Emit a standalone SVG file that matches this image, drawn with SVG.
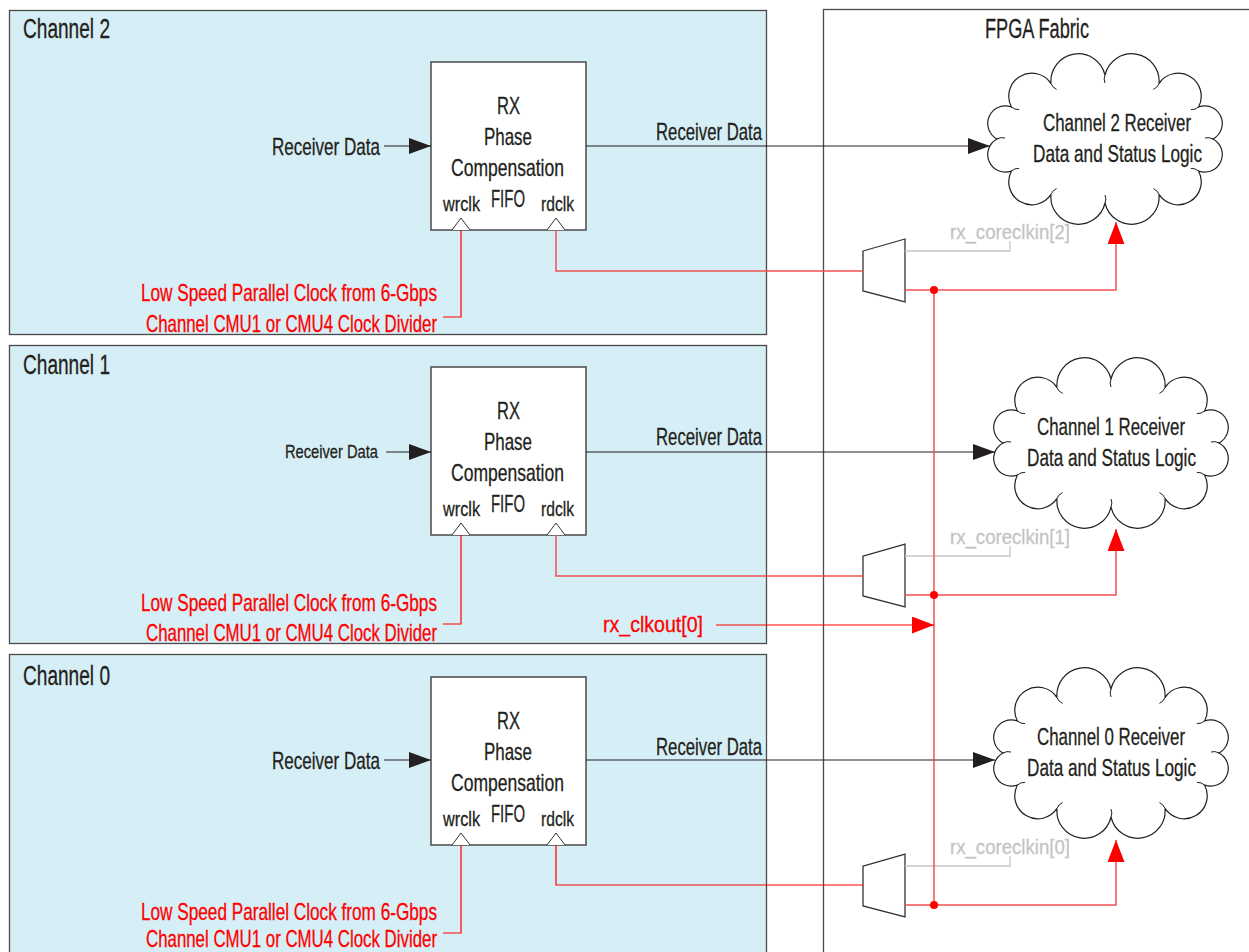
<svg xmlns="http://www.w3.org/2000/svg" width="1249" height="952" viewBox="0 0 1249 952">
<style>
text{font-family:"Liberation Sans Narrow","Liberation Sans",Arial,sans-serif;fill:#231f20;stroke:#231f20;stroke-width:0.3}
.r{fill:#ff0000;stroke:#ff0000}
.g{fill:#c4c4c4;stroke:#c4c4c4}
.chan{fill:#d6eef5;stroke:#4a4a4a;stroke-width:1.3}
.fab{fill:#ffffff;stroke:#4a4a4a;stroke-width:1.3}
.box{fill:#ffffff;stroke:#4a4a4a;stroke-width:1.5}
.clk{fill:#ffffff;stroke:#333;stroke-width:1}
.mux{fill:#ffffff;stroke:#333;stroke-width:1.3}
.cloud{fill:#ffffff;stroke:#231f20;stroke-width:1.2}
.tick{fill:none;stroke:#231f20;stroke-width:1}
.dl{fill:none;stroke:#231f20;stroke-width:1.2}
.rl{fill:none;stroke:#ff0000;stroke-width:1.2}
.rl2{fill:none;stroke:#f25050;stroke-width:1.5}
.gl{fill:none;stroke:#c8c8c8;stroke-width:1.3}
</style>
<defs>
<marker id="ab" markerUnits="userSpaceOnUse" viewBox="0 0 22 16" markerWidth="22" markerHeight="16" refX="22" refY="8" orient="auto"><path d="M0,0 L22,8 L0,16 Z" fill="#231f20"/></marker>
<marker id="ar" markerUnits="userSpaceOnUse" viewBox="0 0 22 17" markerWidth="22" markerHeight="17" refX="22" refY="8.5" orient="auto"><path d="M0,0 L22,8.5 L0,17 Z" fill="#ff0000"/></marker>
<path id="cl" d="M108,0 A17.6,17.6 0 0 1 93.53,32 A23,23 0 0 1 54,55.43 A27.4,27.4 0 0 1 0,64 A27.4,27.4 0 0 1 -54,55.43 A23,23 0 0 1 -93.53,32 A17.6,17.6 0 0 1 -108,0 A17.6,17.6 0 0 1 -93.53,-32 A23,23 0 0 1 -54,-55.43 A27.4,27.4 0 0 1 0,-64 A27.4,27.4 0 0 1 54,-55.43 A23,23 0 0 1 93.53,-32 A17.6,17.6 0 0 1 108,0 Z"/>
<path id="ct" d="M108,0 a10,10 0 0 0 -8,-1 M93.53,32 a10,10 0 0 0 -7.6,-2.6 M54,55.43 a10,10 0 0 0 -5.6,-5.8 M0,64 a10,10 0 0 0 0,-8 M-54,55.43 a10,10 0 0 1 5.6,-5.8 M-93.53,32 a10,10 0 0 1 7.6,-2.6 M-108,0 a10,10 0 0 1 8,-1 M-93.53,-32 a10,10 0 0 0 7.6,2.6 M-54,-55.43 a10,10 0 0 0 5.6,5.8 M0,-64 a10,10 0 0 0 0,8 M54,-55.43 a10,10 0 0 1 -5.6,5.8 M93.53,-32 a10,10 0 0 1 -7.6,2.6"/>
</defs>

<g id="fpga-fabric">
<rect class="fab" x="823.5" y="9.5" width="500" height="1000"/>
<text x="985" y="38" font-size="27" textLength="104" lengthAdjust="spacingAndGlyphs">FPGA Fabric</text>
</g>

<g id="channel2">
<rect class="chan" x="9.5" y="10.5" width="757" height="324"/>
<text x="23" y="38" font-size="27" textLength="87" lengthAdjust="spacingAndGlyphs">Channel 2</text>
</g>
<g id="channel1">
<rect class="chan" x="9.5" y="345.5" width="757" height="298"/>
<text x="23" y="374" font-size="27" textLength="87" lengthAdjust="spacingAndGlyphs">Channel 1</text>
</g>
<g id="channel0">
<rect class="chan" x="9.5" y="654.5" width="757" height="320"/>
<text x="23" y="685" font-size="27" textLength="87" lengthAdjust="spacingAndGlyphs">Channel 0</text>
</g>

<g id="fifo2">
<rect class="box" x="431" y="62" width="155" height="168"/>
<text x="497" y="114" font-size="24" textLength="23" lengthAdjust="spacingAndGlyphs">RX</text>
<text x="484" y="145" font-size="24" textLength="48" lengthAdjust="spacingAndGlyphs">Phase</text>
<text x="451" y="176" font-size="24" textLength="113" lengthAdjust="spacingAndGlyphs">Compensation</text>
<text x="491" y="207" font-size="24" textLength="34" lengthAdjust="spacingAndGlyphs">FIFO</text>
<text x="443" y="211" font-size="20" textLength="37" lengthAdjust="spacingAndGlyphs">wrclk</text>
<text x="541" y="211" font-size="20" textLength="33" lengthAdjust="spacingAndGlyphs">rdclk</text>
<path class="clk" d="M452,230 L461,218 L470,230"/>
<path class="clk" d="M547,230 L556,218 L565,230"/>
</g>
<g id="fifo1">
<rect class="box" x="431" y="367" width="155" height="168"/>
<text x="497" y="419" font-size="24" textLength="23" lengthAdjust="spacingAndGlyphs">RX</text>
<text x="484" y="450" font-size="24" textLength="48" lengthAdjust="spacingAndGlyphs">Phase</text>
<text x="451" y="481" font-size="24" textLength="113" lengthAdjust="spacingAndGlyphs">Compensation</text>
<text x="491" y="512" font-size="24" textLength="34" lengthAdjust="spacingAndGlyphs">FIFO</text>
<text x="443" y="516" font-size="20" textLength="37" lengthAdjust="spacingAndGlyphs">wrclk</text>
<text x="541" y="516" font-size="20" textLength="33" lengthAdjust="spacingAndGlyphs">rdclk</text>
<path class="clk" d="M452,535 L461,523 L470,535"/>
<path class="clk" d="M547,535 L556,523 L565,535"/>
</g>
<g id="fifo0">
<rect class="box" x="431" y="677" width="155" height="168"/>
<text x="497" y="729" font-size="24" textLength="23" lengthAdjust="spacingAndGlyphs">RX</text>
<text x="484" y="760" font-size="24" textLength="48" lengthAdjust="spacingAndGlyphs">Phase</text>
<text x="451" y="791" font-size="24" textLength="113" lengthAdjust="spacingAndGlyphs">Compensation</text>
<text x="491" y="822" font-size="24" textLength="34" lengthAdjust="spacingAndGlyphs">FIFO</text>
<text x="443" y="826" font-size="20" textLength="37" lengthAdjust="spacingAndGlyphs">wrclk</text>
<text x="541" y="826" font-size="20" textLength="33" lengthAdjust="spacingAndGlyphs">rdclk</text>
<path class="clk" d="M452,845 L461,833 L470,845"/>
<path class="clk" d="M547,845 L556,833 L565,845"/>
</g>

<g id="mux2"><path class="mux" d="M863,251 L905,239 L905,302 L863,291 Z"/></g>
<g id="mux1"><path class="mux" d="M863,556 L905,544 L905,607 L863,596 Z"/></g>
<g id="mux0"><path class="mux" d="M863,866 L905,854 L905,917 L863,906 Z"/></g>

<g id="cloud2">
<use href="#cl" class="cloud" x="1105" y="139"/>
<use href="#ct" class="tick" x="1105" y="139"/>
<text transform="translate(1043,131) scale(0.72,1)" font-size="24" textLength="205.6" lengthAdjust="spacingAndGlyphs">Channel 2 Receiver</text>
<text transform="translate(1033,162) scale(0.72,1)" font-size="24" textLength="234.7" lengthAdjust="spacingAndGlyphs">Data and Status Logic</text>
</g>
<g id="cloud1">
<use href="#cl" class="cloud" x="1111" y="443"/>
<use href="#ct" class="tick" x="1111" y="443"/>
<text transform="translate(1037,435) scale(0.72,1)" font-size="24" textLength="205.6" lengthAdjust="spacingAndGlyphs">Channel 1 Receiver</text>
<text transform="translate(1027,466) scale(0.72,1)" font-size="24" textLength="234.7" lengthAdjust="spacingAndGlyphs">Data and Status Logic</text>
</g>
<g id="cloud0">
<use href="#cl" class="cloud" x="1111" y="753"/>
<use href="#ct" class="tick" x="1111" y="753"/>
<text transform="translate(1037,745) scale(0.72,1)" font-size="24" textLength="205.6" lengthAdjust="spacingAndGlyphs">Channel 0 Receiver</text>
<text transform="translate(1027,776) scale(0.72,1)" font-size="24" textLength="234.7" lengthAdjust="spacingAndGlyphs">Data and Status Logic</text>
</g>

<g id="connectors">
<path class="dl" d="M384,146 H431" marker-end="url(#ab)"/>
<path class="dl" d="M386,452 H431" marker-end="url(#ab)"/>
<path class="dl" d="M384,760 H431" marker-end="url(#ab)"/>
<path class="dl" d="M586,146 H990" marker-end="url(#ab)"/>
<path class="dl" d="M586,452 H995" marker-end="url(#ab)"/>
<path class="dl" d="M586,760 H995" marker-end="url(#ab)"/>
<path class="rl" d="M461,230 V317 H443"/>
<path class="rl" d="M461,535 V624 H443"/>
<path class="rl" d="M461,845 V933 H443"/>
<path class="rl2" d="M556,230 V271 H863"/>
<path class="rl2" d="M556,535 V576 H863"/>
<path class="rl" d="M556,845 V885 H863"/>
<path class="rl2" d="M905,290 H1116 V222" marker-end="url(#ar)"/>
<path class="rl2" d="M905,595 H1116 V529" marker-end="url(#ar)"/>
<path class="rl2" d="M905,905 H1116 V840" marker-end="url(#ar)"/>
<path class="gl" d="M905,251 H1010 V241"/>
<path class="gl" d="M905,556 H1010 V546"/>
<path class="gl" d="M905,866 H1010 V856"/>
<path class="rl2" d="M934,290 V905"/>
<path class="rl" d="M716,625 H934" marker-end="url(#ar)"/>
<circle cx="934" cy="290" r="4" fill="#ff0000"/>
<circle cx="934" cy="595" r="4" fill="#ff0000"/>
<circle cx="934" cy="905" r="4" fill="#ff0000"/>
<text x="272" y="155" font-size="24" textLength="108" lengthAdjust="spacingAndGlyphs">Receiver Data</text>
<text x="285" y="458" font-size="19" textLength="93" lengthAdjust="spacingAndGlyphs">Receiver Data</text>
<text x="272" y="769" font-size="24" textLength="108" lengthAdjust="spacingAndGlyphs">Receiver Data</text>
<text x="656" y="140" font-size="24" textLength="106" lengthAdjust="spacingAndGlyphs">Receiver Data</text>
<text x="656" y="445" font-size="24" textLength="106" lengthAdjust="spacingAndGlyphs">Receiver Data</text>
<text x="656" y="755" font-size="24" textLength="106" lengthAdjust="spacingAndGlyphs">Receiver Data</text>
<text class="r" x="141" y="301" font-size="24" textLength="296" lengthAdjust="spacingAndGlyphs">Low Speed Parallel Clock from 6-Gbps</text>
<text class="r" x="146" y="332" font-size="24" textLength="291" lengthAdjust="spacingAndGlyphs">Channel CMU1 or CMU4 Clock Divider</text>
<text class="r" x="141" y="611" font-size="24" textLength="296" lengthAdjust="spacingAndGlyphs">Low Speed Parallel Clock from 6-Gbps</text>
<text class="r" x="146" y="641" font-size="24" textLength="291" lengthAdjust="spacingAndGlyphs">Channel CMU1 or CMU4 Clock Divider</text>
<text class="r" x="141" y="920" font-size="24" textLength="296" lengthAdjust="spacingAndGlyphs">Low Speed Parallel Clock from 6-Gbps</text>
<text class="r" x="146" y="947" font-size="24" textLength="291" lengthAdjust="spacingAndGlyphs">Channel CMU1 or CMU4 Clock Divider</text>
<text class="r" x="603" y="632" font-size="22" textLength="100" lengthAdjust="spacingAndGlyphs">rx_clkout[0]</text>
<text class="g" x="950" y="239" font-size="21" textLength="120" lengthAdjust="spacingAndGlyphs">rx_coreclkin[2]</text>
<text class="g" x="950" y="544" font-size="21" textLength="120" lengthAdjust="spacingAndGlyphs">rx_coreclkin[1]</text>
<text class="g" x="950" y="854" font-size="21" textLength="120" lengthAdjust="spacingAndGlyphs">rx_coreclkin[0]</text>
</g>
</svg>
